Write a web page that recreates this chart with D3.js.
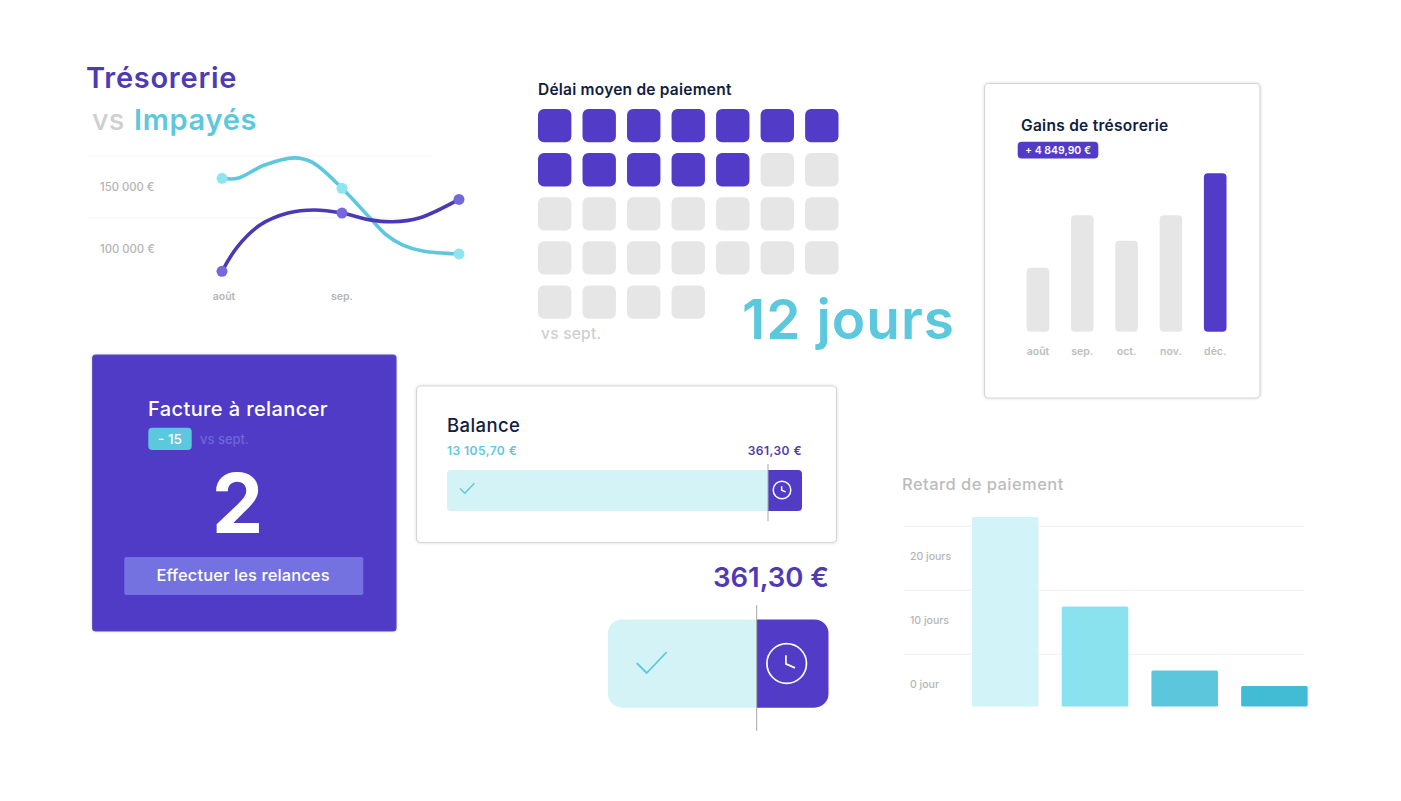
<!DOCTYPE html>
<html lang="fr"><head><meta charset="utf-8">
<script src="https://cdn.jsdelivr.net/npm/d3@7"></script>
<style>html,body{margin:0;background:#fff;overflow:hidden}svg{display:block}text{font-family:Inter,"Noto Sans",sans-serif}</style>
</head><body><div id="c"></div>
<script>
// ---- data ----
const lineTicks = [150000, 100000];
const lineTickLabels = ["150 000 €", "100 000 €"];
const lineMonths = ["août", "sep."];
const pointMonth = [0, 1, 2];
const impayesPoints = [157000, 149000, 96000];
const tresoPoints = [82000, 129000, 140000];
// positions along the curve, in months since août, with the values read there
const impayesCurveMonth = [0, .13, .35, .6, .75, 1, 1.24, 1.38, 1.52, 1.69, 2];
const impayesCurve = [157000, 157000, 167500, 173500, 170000, 149000, 125000, 111300, 103200, 98400, 96000];
const tresoCurveMonth = [0, .13, .32, .55, .77, 1, 1.24, 1.43, 1.66, 2];
const tresoCurve = [82000, 102000, 119500, 129000, 131500, 129000, 123500, 122000, 125000, 140000];
const totalDays = 32;
const paidDays = 12;
const gainMonths = ["août", "sep.", "oct.", "nov.", "déc."];
const gainValues = [1960, 3565, 2785, 3565, 4850];
const retardValues = [26.1, 12.1, 2.1, -0.3];
const retardTicks = [20, 10, 0];
const retardTickLabels = ["20 jours", "10 jours", "0 jour"];
const retardColors = ["#d2f3f7", "#89e2ee", "#5bc6dc", "#42bcd4"];
const balancePaid = 13105.70;
const balanceDue = 361.30;

const PURPLE = "#523bc7", TEAL = "#5cc8dd", GREY = "#e6e6e6", LIGHT = "#d3f3f7", NAVY = "#10203f", TICK = "#b5b5b5";
const svg = d3.select("#c").append("svg").attr("width", 1401).attr("height", 801);
const defs = svg.append("defs");
const f = defs.append("filter").attr("id", "sh").attr("x", "-5%").attr("y", "-5%").attr("width", "110%").attr("height", "110%");
f.append("feDropShadow").attr("dx", 0).attr("dy", 0).attr("stdDeviation", 1.5).attr("flood-color", "#000").attr("flood-opacity", .16);

function text(x, y, s, size, fill, weight = 500, anchor = "start", ls = 0) {
  return svg.append("text").attr("x", x).attr("y", y).text(s).attr("font-size", size).attr("fill", fill)
    .attr("font-weight", weight).attr("text-anchor", anchor).attr("letter-spacing", ls);
}
function card(x0, y0, x1, y1, fill, r = 4, stroke = "#d6d6d6") {
  svg.append("rect").attr("x", x0).attr("y", y0).attr("width", x1 - x0).attr("height", y1 - y0).attr("rx", r)
    .attr("fill", fill).attr("stroke", stroke).attr("stroke-width", 1.2).attr("filter", "url(#sh)");
}

// ---- Trésorerie vs Impayés ----
text(86, 88, "Trésorerie", 29, "#4f3ab5", 600, "start", .75);
text(92, 130, "vs", 29, "#cfcfcf", 500);
text(134, 130, "Impayés", 29, TEAL, 600, "start", .7);
const lx = d3.scaleLinear().domain(pointMonth).range([222, 342, 459]);
const ly = d3.scaleLinear().domain([100000, 150000]).range([249, 187]);
svg.append("g").selectAll("line").data([156, 218]).join("line")
  .attr("x1", 87).attr("x2", 432).attr("y1", d => d).attr("y2", d => d).attr("stroke", "#f4f4f4");
svg.append("g").selectAll("text").data(lineTicks).join("text")
  .attr("x", 100).attr("y", d => ly(d) + 4).text((d, i) => lineTickLabels[i])
  .attr("font-size", 11.3).attr("font-weight", 500).attr("fill", TICK);
svg.append("g").selectAll("text").data(lineMonths).join("text")
  .attr("x", (d, i) => lx(i) + (i ? 0 : 2)).attr("y", 300).attr("text-anchor", "middle").text(d => d)
  .attr("font-size", 10.5).attr("font-weight", 600).attr("fill", TICK);
const lineGen = d3.line().x(d => lx(d[0])).y(d => ly(d[1])).curve(d3.curveCatmullRom.alpha(.5));
svg.append("path").datum(d3.zip(impayesCurveMonth, impayesCurve)).attr("d", lineGen)
  .attr("fill", "none").attr("stroke", TEAL).attr("stroke-width", 3.6).attr("stroke-linecap", "round");
svg.append("path").datum(d3.zip(tresoCurveMonth, tresoCurve)).attr("d", lineGen)
  .attr("fill", "none").attr("stroke", "#4c38b4").attr("stroke-width", 3.6).attr("stroke-linecap", "round");
svg.append("g").selectAll("circle").data(impayesPoints).join("circle")
  .attr("cx", (d, i) => lx(pointMonth[i])).attr("cy", d => ly(d)).attr("r", 5.5).attr("fill", "#8ce5ef");
svg.append("g").selectAll("circle").data(tresoPoints).join("circle")
  .attr("cx", (d, i) => lx(pointMonth[i])).attr("cy", d => ly(d)).attr("r", 5.5).attr("fill", "#7468db");

// ---- Délai moyen de paiement ----
text(538, 95, "Délai moyen de paiement", 15.5, NAVY, 600, "start", .22);
const cols = d3.range(7), rows = d3.range(5);
const gx = d3.scaleBand().domain(cols).range([538, 838.5]).paddingInner(.25);
const gy = d3.scaleBand().domain(rows).range([109, 318.7]).paddingInner(.245);
svg.append("g").selectAll("rect").data(d3.range(totalDays)).join("rect")
  .attr("x", d => gx(d % 7)).attr("y", d => gy(Math.floor(d / 7)))
  .attr("width", gx.bandwidth()).attr("height", gy.bandwidth()).attr("rx", 6)
  .attr("fill", d => d < paidDays ? PURPLE : GREY);
text(541, 339, "vs sept.", 15.5, "#cfcfcf", 500, "start", .25);
text(742, 339, paidDays + " jours", 55, TEAL, 600, "start", 1);

// ---- Gains de trésorerie ----
card(984.5, 83.5, 1260, 398, "#fff");
text(1021, 131, "Gains de trésorerie", 15.5, NAVY, 600, "start", .28);
svg.append("rect").attr("x", 1017.7).attr("y", 141.7).attr("width", 80.6).attr("height", 16.8).attr("rx", 4).attr("fill", PURPLE);
text(1058, 154, "+ 4 849,90 €", 10.5, "#fff", 600, "middle");
const bx = d3.scaleBand().domain(gainMonths).range([1026.7, 1226.5]).paddingInner(.49);
const by = d3.scaleLinear().domain([0, 4850]).range([331.7, 173.3]);
svg.append("g").selectAll("rect").data(gainValues).join("rect")
  .attr("x", (d, i) => bx(gainMonths[i])).attr("y", d => by(d)).attr("width", bx.bandwidth())
  .attr("height", d => by(0) - by(d)).attr("rx", 4)
  .attr("fill", (d, i) => i === gainValues.length - 1 ? PURPLE : GREY);
svg.append("g").selectAll("text").data(gainMonths).join("text")
  .attr("x", d => bx(d) + bx.bandwidth() / 2).attr("y", 355).attr("text-anchor", "middle").text(d => d)
  .attr("font-size", 10.5).attr("font-weight", 600).attr("fill", "#bdbdbd");

// ---- Facture à relancer ----
card(92.7, 355, 396, 631, "#4f3ac6", 3, "#5a4ab5");
text(148, 416, "Facture à relancer", 20, "#fff", 500, "start", .4);
svg.append("rect").attr("x", 148.3).attr("y", 427.7).attr("width", 43.4).attr("height", 22.3).attr("rx", 4).attr("fill", TEAL);
text(170, 444, "- 15", 13.5, "#fff", 500, "middle");
text(200, 444, "vs sept.", 13, "#6f65dc", 500);
text(237.5, 533, "2", 82, "#fff", 700, "middle");
svg.append("rect").attr("x", 124.3).attr("y", 557).attr("width", 239).attr("height", 38).attr("rx", 2).attr("fill", "#7472e0");
text(243, 581, "Effectuer les relances", 16.5, "#fff", 500, "middle", .1);

// ---- Balance ----
function balanceBar(x0, x1, split, y0, y1, r, divTop, divBot) {
  const sx = d3.scaleLinear().domain([0, balancePaid, balancePaid + balanceDue]).range([x0, split, x1]);
  const xs = sx(balancePaid), xe = sx(balancePaid + balanceDue);
  const lp = d3.path();
  lp.moveTo(xs, y0); lp.lineTo(x0 + r, y0); lp.arcTo(x0, y0, x0, y0 + r, r); lp.lineTo(x0, y1 - r); lp.arcTo(x0, y1, x0 + r, y1, r); lp.lineTo(xs, y1); lp.closePath();
  svg.append("path").attr("d", lp.toString()).attr("fill", LIGHT);
  const rp = d3.path();
  rp.moveTo(xs, y0); rp.lineTo(xe - r, y0); rp.arcTo(xe, y0, xe, y0 + r, r); rp.lineTo(xe, y1 - r); rp.arcTo(xe, y1, xe - r, y1, r); rp.lineTo(xs, y1); rp.closePath();
  svg.append("path").attr("d", rp.toString()).attr("fill", PURPLE);
  svg.append("line").attr("x1", xs).attr("x2", xs).attr("y1", divTop).attr("y2", divBot).attr("stroke", "#a9a9a9").attr("stroke-width", 1);
}
function check(x, y, s, w) {
  svg.append("path").attr("d", `M${x},${y}l${10 * s},${10 * s}l${20 * s},${-21 * s}`).attr("fill", "none").attr("stroke", TEAL).attr("stroke-width", w);
}
function clock(cx, cy, r, w) {
  svg.append("circle").attr("cx", cx).attr("cy", cy).attr("r", r).attr("fill", "none").attr("stroke", "#fff").attr("stroke-width", w);
  svg.append("path").attr("d", `M${cx - r * .04},${cy - r * .42}V${cy + r * .02}L${cx + r * .42},${cy + r * .22}`).attr("fill", "none").attr("stroke", "#fff").attr("stroke-width", w);
}
card(416.5, 386, 836.5, 542.5, "#fff");
text(447, 432, "Balance", 18.5, NAVY, 500, "start", .4);
text(447, 455, "13 105,70 €", 12, TEAL, 600, "start", .45);
const dueLabel = balanceDue.toFixed(2).replace(".", ",") + " €";
text(802, 455, dueLabel, 12, "#4f3ab5", 600, "end", .45);
balanceBar(447, 802, 768, 470, 511, 4, 464, 521);
check(460, 488.5, .48, 1.4);
clock(782, 490, 8.8, 1.5);

text(829, 587, dueLabel, 27.5, "#4f3ab5", 600, "end");
balanceBar(608, 828.5, 756.7, 619.5, 707.7, 14, 605, 731);
check(636.7, 663, 1, 1.8);
clock(786.7, 663.5, 19.8, 1.7);

// ---- Retard de paiement ----
text(902, 490, "Retard de paiement", 16.5, "#bcbcbc", 500, "start", .45);
const ry = d3.scaleLinear().domain([0, 20]).range([684, 556]);
const rx = d3.scaleBand().domain(d3.range(retardValues.length)).range([972, 1307.7]).paddingInner(.258);
svg.append("g").selectAll("line").data([526.3, 590.3, 654.3]).join("line")
  .attr("x1", 904).attr("x2", 1304).attr("y1", d => d).attr("y2", d => d).attr("stroke", "#f1f1f1");
svg.append("g").selectAll("text").data(retardTicks).join("text")
  .attr("x", 910).attr("y", d => ry(d) + 4).text((d, i) => retardTickLabels[i])
  .attr("font-size", 10.5).attr("fill", TICK).attr("font-weight", 500);
svg.append("g").selectAll("rect").data(retardValues).join("rect")
  .attr("x", (d, i) => rx(i)).attr("y", d => ry(d)).attr("width", rx.bandwidth())
  .attr("height", d => ry(-3.5) - ry(d)).attr("rx", 1.5).attr("fill", (d, i) => retardColors[i]);
</script></body></html>
